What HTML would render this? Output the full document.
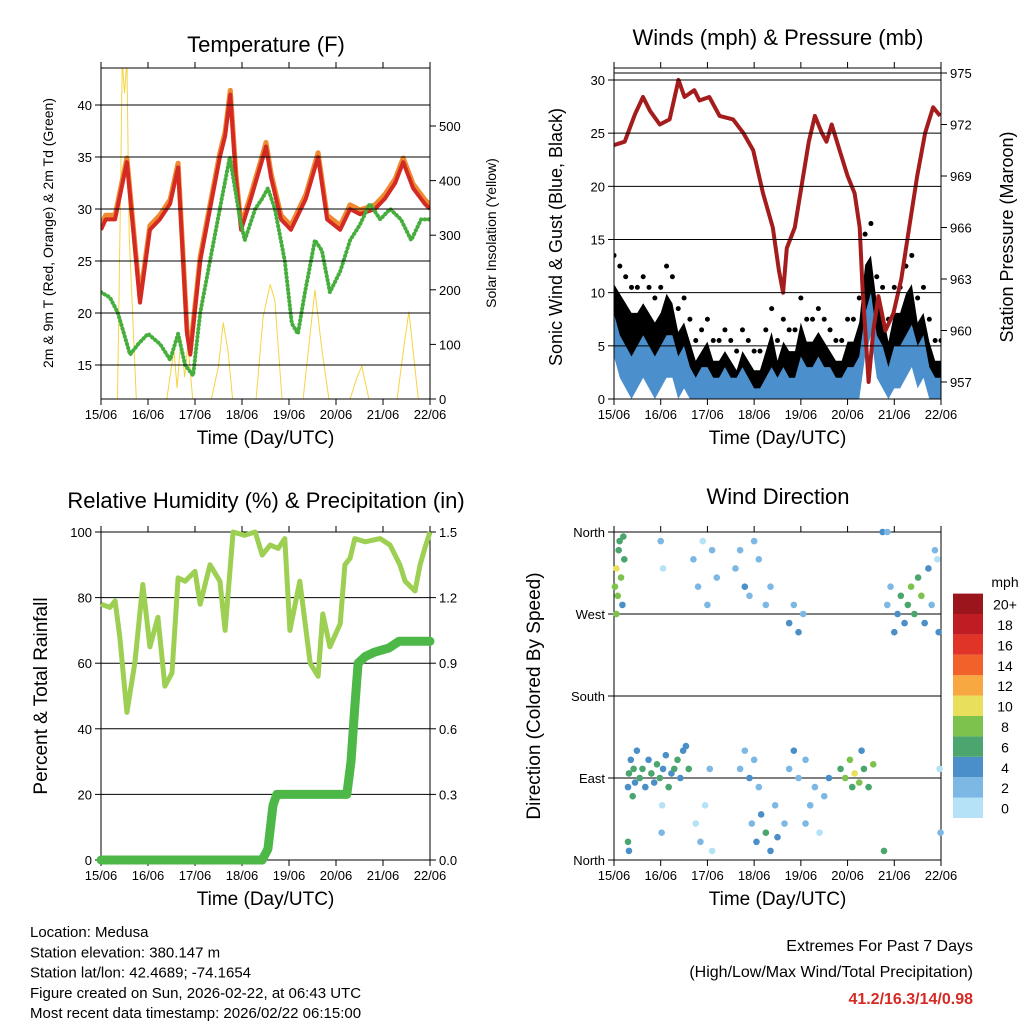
<!DOCTYPE html>
<html><head><meta charset="utf-8">
<style>
body{margin:0;background:#fff;}
svg text{font-family:"Liberation Sans",sans-serif;fill:#000;}
</style></head><body>
<svg id="c" width="1024" height="1024" xmlns="http://www.w3.org/2000/svg"></svg>
<script>
// ---------- DATA ----------
const tempTime=[0,0.1,0.3,0.55,0.83,1.04,1.25,1.47,1.64,1.83,1.9,2.11,2.32,2.53,2.64,2.75,2.87,2.98,3.19,3.45,3.51,3.62,3.83,4.04,4.36,4.62,4.81,5.09,5.3,5.51,5.83,6.04,6.26,6.43,6.64,6.89,7.0];
const tempVals=[28,29,29,34.5,21,28,29,30.5,34,18,16,25,30,35,37,41,33,28,31,35,36,33,29,28,31,35,29,28,30,29.5,30,31,32.5,34.5,32,30.5,30];
const dewTime=[0,0.19,0.36,0.49,0.62,0.79,1.0,1.26,1.47,1.64,1.79,1.96,2.11,2.32,2.57,2.74,2.96,3.06,3.28,3.43,3.55,3.7,3.91,4.06,4.19,4.34,4.55,4.7,4.87,5.09,5.3,5.51,5.72,5.94,6.15,6.38,6.6,6.81,7.0];
const dewVals=[22,21.5,20,18,16,17,18,17,15.5,18,15,14,20,25,31,35,29,27,30,31,32,30,25,19,18,22,27,26,22,24,27,28.5,30.5,29,30,29,27,29,29];
const solTime=[0,0.35,0.42,0.45,0.5,0.55,0.6,0.75,1.4,1.55,1.62,1.7,1.78,1.85,1.95,2.35,2.5,2.6,2.7,2.8,3.3,3.45,3.6,3.7,3.85,4.3,4.45,4.55,4.7,4.85,5.3,5.45,5.55,5.7,6.3,6.45,6.55,6.65,6.75,7.0];
const solVals=[0,0,400,620,560,620,300,0,0,90,20,110,40,100,0,0,60,140,90,0,0,150,210,180,0,0,120,200,90,0,0,40,60,0,0,100,160,80,0,0];
const windTime=[];for(let i=0;i<=56;i++)windTime.push(i/8);
const sustVals=[8,6,5,4,5,6,5,4, 5,6,6,4,5,3,2,3, 3,2,2,3,2,2,3,2, 1,1,2,3,2,3,2,2, 4,3,3,4,3,3,2,2, 3,3,4,8,10,6,5,3, 5,5,6,7,5,6,3,2, 2];
const gustVals=[12,11,10,9,9,10,9,8, 9,11,10,7,8,6,4,5, 6,4,4,5,4,3,5,4, 3,3,5,7,4,6,5,5, 8,6,6,7,6,5,4,4, 6,6,8,14,15,10,9,6, 9,9,11,12,8,9,6,4, 4];
const presTime=[0,0.23,0.45,0.62,0.77,0.98,1.19,1.38,1.51,1.72,1.83,2.04,2.26,2.55,2.77,2.98,3.19,3.4,3.53,3.62,3.7,3.87,4.02,4.17,4.3,4.45,4.55,4.66,4.83,5.0,5.15,5.26,5.32,5.38,5.45,5.55,5.66,5.81,5.98,6.15,6.32,6.49,6.66,6.83,6.98];
const presVals=[970.8,971,972.6,973.6,972.8,972,972.3,974.6,973.6,974,973.4,973.6,972.5,972.3,971.5,970.5,968,966,963.5,962.2,964.8,966,968.5,971,972.5,971.5,971,972,970.5,969,968,966,962.5,960,957,960,962,960,961,963,966,969,971.5,973,972.5];
const rhTime=[0,0.19,0.3,0.4,0.55,0.72,0.89,1.04,1.21,1.36,1.51,1.64,1.79,2.0,2.11,2.32,2.53,2.64,2.81,3.06,3.28,3.43,3.6,3.77,3.91,4.02,4.23,4.45,4.62,4.72,4.87,5.09,5.19,5.3,5.4,5.62,5.94,6.15,6.36,6.47,6.68,6.79,6.89,7.0];
const rhVals=[78,77,79,68,45,60,84,65,74,53,57,86,85,88,78,90,85,70,100,99,100,93,96,95,98,70,85,60,56,75,65,72,90,92,98,97,98,96,90,85,82,90,95,100];
const prTime=[0,3.43,3.55,3.66,3.74,5.23,5.32,5.4,5.47,5.62,5.81,6.13,6.34,7.0];
const prVals=[0,0,0.05,0.25,0.3,0.3,0.45,0.7,0.9,0.93,0.95,0.97,1.0,1.0];
const dirT=[0.02,0.05,0.08,0.1,0.12,0.15,0.18,0.2,0.22,0.05,
0.3,0.32,0.36,0.4,0.42,0.45,0.49,0.55,0.61,0.67,0.74,0.8,0.86,0.92,0.98,1.05,1.11,1.17,1.23,1.29,1.36,1.42,1.48,1.54,1.6,
0.3,0.32,1.0,1.05,1.03,1.02,
1.7,1.8,1.9,2.0,2.1,2.2,1.75,1.85,1.95,2.1,2.05,
2.6,2.7,2.8,2.9,3.0,3.1,2.7,2.8,2.9,3.0,3.1,
2.95,3.05,3.15,3.25,3.35,3.45,3.5,3.25,3.35,
3.75,3.85,3.95,4.05,3.75,3.85,3.95,4.1,3.65,4.2,
4.1,4.2,4.3,4.4,4.5,4.6,
4.85,4.95,5.05,5.15,5.25,5.35,5.45,5.55,5.1,5.3,
5.75,5.78,5.85,
5.85,5.92,6.0,6.07,6.14,6.22,6.29,6.36,6.43,6.51,6.58,6.65,6.73,6.8,6.87,6.95,
6.97,6.99,6.92];
const dirD=[300,320,290,340,350,310,280,355,330,270,80,95,110,70,100,85,120,90,100,80,110,95,85,105,90,100,115,80,95,100,110,90,120,125,100,20,10,350,320,60,30,330,300,350,280,340,310,40,20,60,10,100,320,340,300,290,350,330,100,120,90,110,80,40,20,50,30,10,60,25,280,300,260,280,250,270,100,120,90,110,40,60,40,60,80,30,70,90,100,90,110,95,85,100,80,105,80,120,360,10,360,280,300,250,270,290,260,280,300,270,310,290,260,320,280,340,250,100,30,330];
const dirS=[9,10,8,7,6,8,5,6,7,9,5,6,4,7,6,5,4,6,7,5,4,6,5,7,6,5,4,6,5,7,6,5,4,5,6,6,5,2,1,1,2,2,3,1,2,3,2,1,2,1,1,2,2,3,4,3,2,3,3,2,4,3,2,3,4,5,6,4,3,5,3,2,4,3,4,2,3,4,2,3,2,1,2,3,2,1,3,4,7,8,9,10,8,7,6,9,6,5,5,6,2,3,2,4,5,6,5,7,8,6,7,8,5,4,3,2,4,1,2,1];
const days=['15/06','16/06','17/06','18/06','19/06','20/06','21/06','22/06'];
const spdColors=['#b5e2f7','#7db8e5','#4a8fc8','#4aa66e','#7dc24c','#e8e05a','#f7a840','#f0622a','#e03428','#c01c24','#9a161c'];
const spdLabels=['0','2','4','6','8','10','12','14','16','18','20+'];

// ---------- HELPERS ----------
const S=document.getElementById('c');const NS='http://www.w3.org/2000/svg';
function el(tag,at,parent){const e=document.createElementNS(NS,tag);for(const k in at)e.setAttribute(k,at[k]);(parent||S).appendChild(e);return e;}
function txt(x,y,s,size,anchor,name,extra){const t=el('text',Object.assign({x:x,y:y,'font-size':size,'text-anchor':anchor||'middle'},extra||{}));t.textContent=s;


return t;}
function lin(d0,d1,p0,p1){return v=>p0+(v-d0)/(d1-d0)*(p1-p0);}
function poly(xs,ys,fx,fy,attrs,name){const pts=xs.map((t,i)=>fx(t).toFixed(1)+','+fy(ys[i]).toFixed(1)).join(' ');const p=el('polyline',Object.assign({points:pts,fill:'none'},attrs));


return p;}
function frame(x0,y0,x1,y1,name){const g=el('g',{});


el('rect',{x:x0,y:y0,width:x1-x0,height:y1-y0,fill:'none',stroke:'#000','stroke-width':1},g);
const fx=lin(0,7,x0,x1);
days.forEach((d,i)=>{const x=fx(i);el('line',{x1:x,y1:y1,x2:x,y2:y1+6,stroke:'#000'},g);el('line',{x1:x,y1:y0,x2:x,y2:y0-6,stroke:'#000'},g);
txt(x,y1+20,d,13,'middle','x-tick-label');});
txt((x0+x1)/2,y1+45,'Time (Day/UTC)',19,'middle','x-axis-title');
return fx;}
function yTicks(vals,labels,fy,x0,x1,grid,side){vals.forEach((v,i)=>{const y=fy(v);
if(grid){const l=el('line',{x1:x0,y1:y,x2:x1,y2:y,stroke:'#000','stroke-width':1});

}
if(side==='L'){el('line',{x1:x0-6,y1:y,x2:x0,y2:y,stroke:'#000'});txt(x0-9,y+5,labels[i],13,'end','y-tick-label');}
else{el('line',{x1:x1,y1:y,x2:x1+6,y2:y,stroke:'#000'});txt(x1+9,y+5,labels[i],13,'start','y2-tick-label');}});}

// ---------- PANEL 1: TEMPERATURE ----------
(function(){const x0=101,x1=430,y0=68,y1=399;
const fy=lin(15,40,365,105),fs=lin(0,500,399,126);
const cp=el('clipPath',{id:'cp1'});el('rect',{x:x0,y:y0,width:x1-x0,height:y1-y0},cp);
const g=el('g',{'clip-path':'url(#cp1)'});


const fx=lin(0,7,x0,x1);
const a=poly(solTime,solVals,fx,fs,{stroke:'#f5d442','stroke-width':1},'solar-insolation-line');g.appendChild(a);
const b=poly(tempTime,tempVals.map(v=>v+0.4),fx,fy,{stroke:'#f08a30','stroke-width':5,'stroke-linejoin':'round'},'temp-9m-line');g.appendChild(b);
const c=poly(tempTime,tempVals,fx,fy,{stroke:'#d42a24','stroke-width':4,'stroke-linejoin':'round'},'temp-2m-line');g.appendChild(c);
const d=poly(dewTime,dewVals,fx,fy,{stroke:'#46ae3c','stroke-width':4,'stroke-dasharray':'0.5 3.5','stroke-linecap':'round','stroke-linejoin':'round'},'dewpoint-line');g.appendChild(d);
frame(x0,y0,x1,y1,'temperature-frame');
yTicks([15,20,25,30,35,40],['15','20','25','30','35','40'],fy,x0,x1,true,'L');
yTicks([0,100,200,300,400,500],['0','100','200','300','400','500'],fs,x0,x1,false,'R');
txt(266,52,'Temperature (F)',22,'middle','temperature-title');
txt(53,233,'2m & 9m T (Red, Orange) & 2m Td (Green)',14,'middle','temperature-y-title',{transform:'rotate(-90 53 233)'});
txt(496,233,'Solar Insolation (Yellow)',14,'middle','solar-y-title',{transform:'rotate(-90 496 233)'});
})();

// ---------- PANEL 2: WINDS ----------
(function(){const x0=614,x1=941,y0=68,y1=399;
const fy=lin(0,30,399,80),fp=lin(957,975,382,73);
const fx=lin(0,7,x0,x1);
const cp=el('clipPath',{id:'cp2'});el('rect',{x:x0,y:y0,width:x1-x0,height:y1-y0},cp);
const g=el('g',{'clip-path':'url(#cp2)'});


let up=windTime.map((t,i)=>fx(t)+','+fy(gustVals[i]*0.9)).join(' ');
let dn=windTime.map((t,i)=>fx(t)+','+fy(Math.max(0,sustVals[i]-2))).reverse().join(' ');
const ga=el('polygon',{points:up+' '+dn,fill:'#000'},g);


windTime.forEach((t,i)=>{const dot=el('circle',{cx:fx(t),cy:fy(gustVals[i]+1.5),r:2.5,fill:'#000'},g);

});
let su=windTime.map((t,i)=>fx(t)+','+fy(sustVals[i])).join(' ');
let sd=windTime.map((t,i)=>fx(t)+','+fy(Math.max(0,sustVals[i]-4))).reverse().join(' ');
const sa=el('polygon',{points:su+' '+sd,fill:'#4b8fcc'},g);


const p=poly(presTime,presVals,fx,fp,{stroke:'#a41c1c','stroke-width':4,'stroke-linejoin':'round'},'pressure-line');g.appendChild(p);
frame(x0,y0,x1,y1,'winds-frame');
yTicks([0,5,10,15,20,25,30],['0','5','10','15','20','25','30'],fy,x0,x1,true,'L');
const gl=el('line',{x1:x0,y1:fp(975),x2:x1,y2:fp(975),stroke:'#000'});


yTicks([957,960,963,966,969,972,975],['957','960','963','966','969','972','975'],fp,x0,x1,false,'R');
txt(778,45,'Winds (mph) & Pressure (mb)',22,'middle','winds-title');
txt(562,237,'Sonic Wind & Gust (Blue, Black)',18,'middle','winds-y-title',{transform:'rotate(-90 562 237)'});
txt(1013,237,'Station Pressure (Maroon)',18,'middle','pressure-y-title',{transform:'rotate(-90 1013 237)'});
})();

// ---------- PANEL 3: RH & PRECIP ----------
(function(){const x0=101,x1=430,y0=532,y1=860;
const fy=lin(0,100,860,532),fp=lin(0,1.5,860,532);const fx=lin(0,7,x0,x1);
frame(x0,y0,x1,y1,'humidity-frame');
yTicks([0,20,40,60,80,100],['0','20','40','60','80','100'],fy,x0,x1,true,'L');
yTicks([0,0.3,0.6,0.9,1.2,1.5],['0.0','0.3','0.6','0.9','1.2','1.5'],fp,x0,x1,false,'R');
poly(rhTime,rhVals,fx,fy,{stroke:'#9ccf52','stroke-width':5,'stroke-linejoin':'round'},'relative-humidity-line');
poly(prTime,prVals,fx,fp,{stroke:'#4db848','stroke-width':9,'stroke-linejoin':'round','stroke-linecap':'round'},'precipitation-line');
txt(266,508,'Relative Humidity (%) & Precipitation (in)',22,'middle','humidity-title');
txt(47,696,'Percent & Total Rainfall',19,'middle','humidity-y-title',{transform:'rotate(-90 47 696)'});
})();

// ---------- PANEL 4: WIND DIRECTION ----------
(function(){const x0=614,x1=941,y0=532,y1=860;
const fy=lin(0,360,860,532);const fx=lin(0,7,x0,x1);
frame(x0,y0,x1,y1,'wind-direction-frame');
yTicks([0,90,180,270,360],['North','East','South','West','North'],fy,x0,x1,true,'L');
dirT.forEach((t,i)=>{const ci=Math.min(10,Math.floor(dirS[i]/2));
const c=el('circle',{cx:fx(t),cy:fy(dirD[i]),r:3.3,fill:spdColors[ci]});

});
txt(778,504,'Wind Direction',22,'middle','wind-direction-title');
txt(540,696,'Direction (Colored By Speed)',19,'middle','direction-y-title',{transform:'rotate(-90 540 696)'});
spdColors.forEach((col,i)=>{const y=818-(i+1)*20.4;
const r=el('rect',{x:953,y:y,width:30,height:20.4,fill:col});


txt(1005,y+16,spdLabels[i],14,'middle','colorbar-label');});
txt(1005,587,'mph',14,'middle','colorbar-unit');
})();

// ---------- FOOTER ----------
const foot=['Location: Medusa','Station elevation: 380.147 m','Station lat/lon: 42.4689; -74.1654','Figure created on Sun, 2026-02-22, at 06:43 UTC','Most recent data timestamp: 2026/02/22 06:15:00'];
foot.forEach((s,i)=>txt(30,937+i*20.3,s,15,'start','station-info-line'));
txt(973,951,'Extremes For Past 7 Days',16,'end','extremes-title');
txt(973,977,'(High/Low/Max Wind/Total Precipitation)',16,'end','extremes-subtitle');
txt(973,1004,'41.2/16.3/14/0.98',16,'end','extremes-values',{'font-weight':'bold',fill:'#d42a24',style:'fill:#d42a24'});
</script>
</body></html>
